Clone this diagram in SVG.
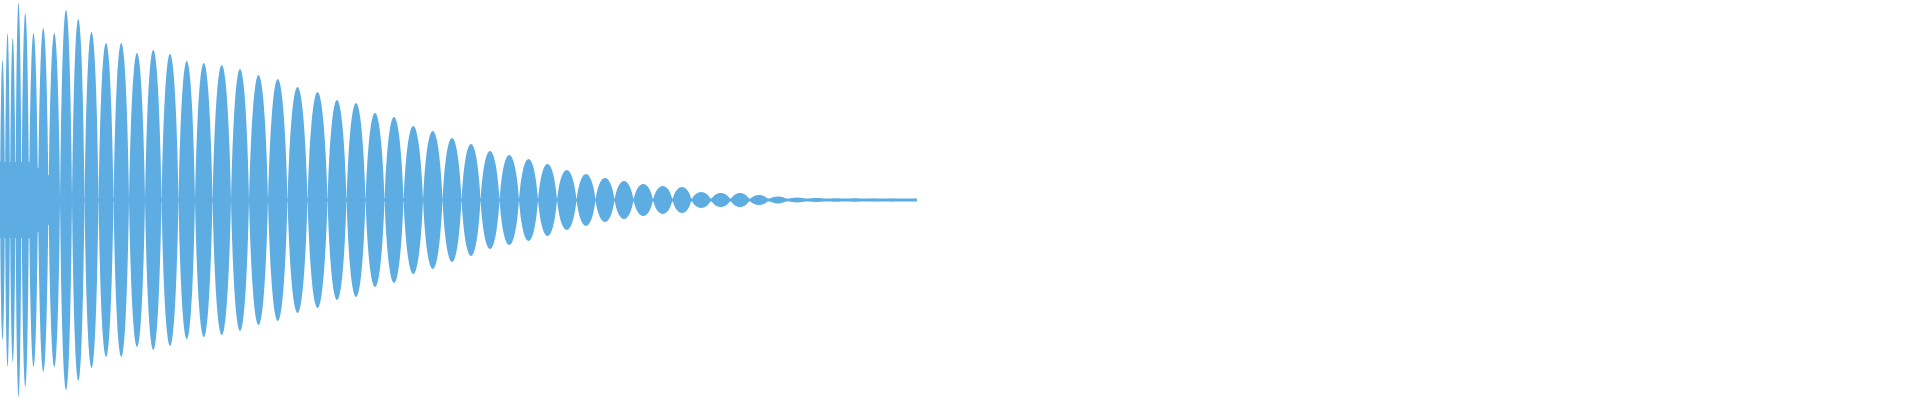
<svg xmlns="http://www.w3.org/2000/svg" width="1920" height="400" viewBox="0 0 1920 400">
<style>.w{fill:#5DADE2;stroke:none}</style>
<defs><path id="l" d="M0 0C0.22 -1.333 0.78 -1.333 1 0C0.78 1.333 0.22 1.333 0 0Z"/></defs>
<rect width="1920" height="400" fill="#fff"/>
<g id="waveform" class="w">
<rect x="0" y="198.5" width="917" height="3"/>
<polygon points="0,162 30,162 58,182 58,218 30,238 0,238"/>
<use href="#l" transform="translate(0,200) scale(5,140)"/>
<use href="#l" transform="translate(5,200) scale(5,167)"/>
<use href="#l" transform="translate(10,200) scale(5.5,162)"/>
<use href="#l" transform="translate(15.5,200) scale(6,197)"/>
<use href="#l" transform="translate(21.5,200) scale(7.5,187)"/>
<use href="#l" transform="translate(29,200) scale(9,167)"/>
<use href="#l" transform="translate(38,200) scale(10.5,172)"/>
<use href="#l" transform="translate(48.5,200) scale(11.5,167)"/>
<use href="#l" transform="translate(60,200) scale(12,190)"/>
<use href="#l" transform="translate(72,200) scale(12.5,181)"/>
<use href="#l" transform="translate(84.5,200) scale(14,168)"/>
<use href="#l" transform="translate(98.5,200) scale(15,157)"/>
<use href="#l" transform="translate(113.5,200) scale(15.5,157)"/>
<use href="#l" transform="translate(129,200) scale(16,147)"/>
<use href="#l" transform="translate(145,200) scale(16.5,150)"/>
<use href="#l" transform="translate(161.5,200) scale(17,146)"/>
<use href="#l" transform="translate(178.5,200) scale(16.5,139)"/>
<use href="#l" transform="translate(195,200) scale(17.5,137)"/>
<use href="#l" transform="translate(212.5,200) scale(18.5,135)"/>
<use href="#l" transform="translate(231,200) scale(18,131)"/>
<use href="#l" transform="translate(249,200) scale(19,125)"/>
<use href="#l" transform="translate(268,200) scale(19.5,121)"/>
<use href="#l" transform="translate(287.5,200) scale(20,113)"/>
<use href="#l" transform="translate(307.5,200) scale(20,108)"/>
<use href="#l" transform="translate(327.5,200) scale(19,100)"/>
<use href="#l" transform="translate(346.5,200) scale(19,97)"/>
<use href="#l" transform="translate(365.5,200) scale(19,87)"/>
<use href="#l" transform="translate(384.5,200) scale(19,83)"/>
<use href="#l" transform="translate(403.5,200) scale(19.5,74)"/>
<use href="#l" transform="translate(423,200) scale(19.5,69)"/>
<use href="#l" transform="translate(442.5,200) scale(19,62)"/>
<use href="#l" transform="translate(461.5,200) scale(19,56)"/>
<use href="#l" transform="translate(480.5,200) scale(19,49)"/>
<use href="#l" transform="translate(499.5,200) scale(19.5,45)"/>
<use href="#l" transform="translate(519,200) scale(19,41)"/>
<use href="#l" transform="translate(538,200) scale(19,36)"/>
<use href="#l" transform="translate(557,200) scale(19.5,30)"/>
<use href="#l" transform="translate(576.5,200) scale(19,26)"/>
<use href="#l" transform="translate(595.5,200) scale(19,22)"/>
<use href="#l" transform="translate(614.5,200) scale(19,19)"/>
<use href="#l" transform="translate(633.5,200) scale(19.5,16)"/>
<use href="#l" transform="translate(653,200) scale(19.5,14)"/>
<use href="#l" transform="translate(672.5,200) scale(19,13)"/>
<use href="#l" transform="translate(691.5,200) scale(19.5,8)"/>
<use href="#l" transform="translate(711,200) scale(19.5,7)"/>
<use href="#l" transform="translate(730.5,200) scale(19,7)"/>
<use href="#l" transform="translate(749.5,200) scale(19,5)"/>
<use href="#l" transform="translate(768.5,200) scale(19,3.5)"/>
<use href="#l" transform="translate(787.5,200) scale(19.5,2.5)"/>
<use href="#l" transform="translate(807,200) scale(19.5,2)"/>
<use href="#l" transform="translate(826.5,200) scale(19,1.5)"/>
<use href="#l" transform="translate(845.5,200) scale(19,1.5)"/>
<use href="#l" transform="translate(864.5,200) scale(18.5,1.2)"/>
<use href="#l" transform="translate(883,200) scale(18.5,1.2)"/>
<use href="#l" transform="translate(901.5,200) scale(15.5,1)"/>
</g>
</svg>
